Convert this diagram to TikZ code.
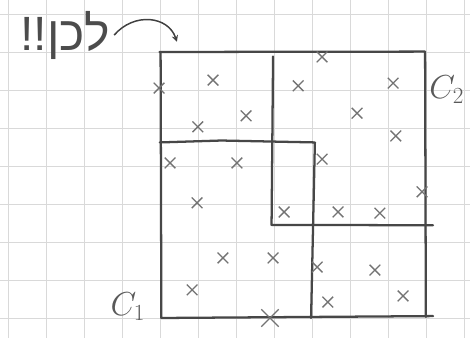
\documentclass[tikz,border=0pt]{standalone}
\usepackage{fontspec}
\usepackage{tikz}
\usetikzlibrary{arrows,calc,positioning,shapes.misc}
\newfontfamily\hebfont[Script=Hebrew]{Liberation Sans}
\TeXXeTstate=1

\begin{document}
\begin{tikzpicture}[
    gridline/.style={gray!30, line width=0.4pt},
    edge/.style={black!72, line width=1.7pt, line cap=round, line join=round},
    pt/.style={cross out, draw=black!55, line width=1pt, minimum size=7pt, inner sep=0pt},
    bigpt/.style={pt, minimum size=12pt},
    lbl/.style={black!65, font=\fontsize{26}{30}\selectfont}
  ]
  % Frame of the page
  \useasboundingbox (-0.226,-0.526) rectangle (12.142,8.368);
  \fill[white] (-0.226,-0.526) rectangle (12.142,8.368);

  % Squared paper
  \foreach \gx in {0,...,12}
    \draw[gridline] (\gx,-0.526) -- (\gx,8.368);
  \foreach \gy in {0,...,8}
    \draw[gridline] (-0.226,\gy) -- (12.142,\gy);

  % Outer square
  \draw[edge] (3.97,7.0) -- (10.96,7.01) -- (10.98,0.03);
  \draw[edge] (4.0,6.98) -- (4.02,0.0) -- (11.17,0.05);

  % Cell C2 (upper right)
  \draw[edge] (6.96,6.88) -- (6.92,2.45) -- (11.17,2.44);

  % Cell C1 (lower left)
  \draw[edge] (3.98,4.62) -- (5.6,4.67) -- (8.06,4.62) -- (7.96,0.0);

  % Points
  \foreach \px/\py [count=\i] in {
      5.38/6.26, 4.98/5.03, 6.25/5.32, 3.96/6.05,
      8.25/6.87, 7.62/6.11, 10.12/6.18, 9.17/5.39, 10.19/4.79,
      8.25/4.18, 10.88/3.32, 8.67/2.79, 9.77/2.76, 7.25/2.79,
      4.25/4.08, 6.01/4.08, 4.96/3.03, 5.64/1.58, 6.96/1.58, 4.83/0.74,
      8.12/1.34, 9.64/1.26, 8.40/0.42, 10.38/0.58}
    \node[pt] (p\i) at (\px,\py) {};
  \node[bigpt] (pbig) at (6.88,0.0) {};

  % Labels
  \node[lbl] (c1) at (3.14,0.3) {$C_{1}$};
  \node[lbl] (c2) at (11.53,6.0) {$C_{2}$};

  % Remark with arrow to the corner
  \node[black!70, font=\hebfont\fontsize{36}{38}\selectfont, anchor=base east] (word) at (2.78,7.05) {\beginR לכן!!\endR};
  \coordinate (tip) at (4.43,7.27);
  \draw[black!75, line width=1.1pt, -stealth] (word.east) .. controls (3.3,8.05) and (4.2,7.95) .. (tip);
\end{tikzpicture}
\end{document}
